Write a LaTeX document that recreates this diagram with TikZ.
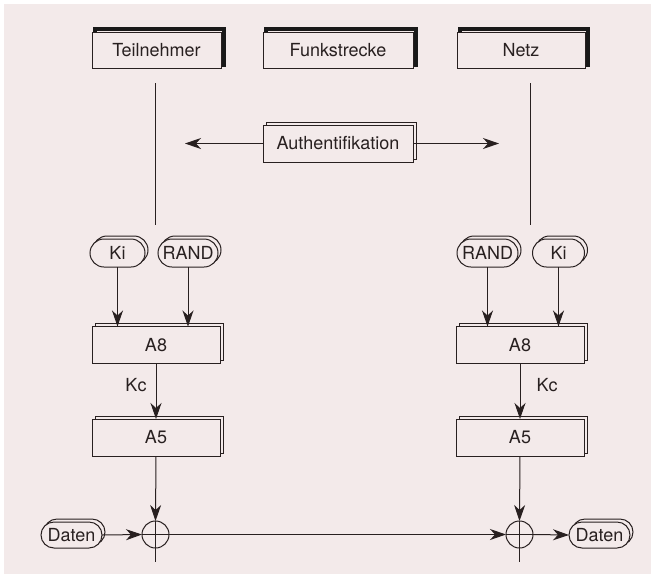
\documentclass[tikz,border=0pt]{standalone}
\usepackage{fontspec}
\setmainfont{TeX Gyre Heros}
\usepackage{tikz}
\usetikzlibrary{arrows.meta,calc,shadows,shapes.misc}
\definecolor{bg}{RGB}{243,234,234}
\definecolor{ink}{RGB}{40,32,32}

\begin{document}
\begin{tikzpicture}[x=1pt,y=-1pt,
    every node/.style={inner sep=0,outer sep=0,text=ink,
        font=\fontsize{18}{20}\selectfont},
    headbox/.style={draw=ink,fill=bg,line width=1pt,minimum height=36pt,
        general shadow={draw=black!90,line width=4pt,shadow xshift=3pt,shadow yshift=3pt}},
    stackbox/.style={draw=ink,fill=bg,line width=1pt,minimum width=128pt,minimum height=37pt,
        general shadow={draw=ink,fill=bg,line width=1pt,shadow xshift=3pt,shadow yshift=3pt}},
    pill/.style={rounded rectangle,draw=ink,fill=bg,line width=1pt,minimum height=28pt,
        general shadow={draw=ink,fill=bg,line width=1pt,shadow xshift=3pt,shadow yshift=3pt}},
    xor/.style={circle,draw=ink,line width=1pt,minimum size=27pt},
    arr/.style={draw=ink,line width=1pt,-{Stealth[length=16pt,width=11pt,inset=5pt]}},
    ln/.style={draw=ink,line width=1pt}]
    \useasboundingbox (0,0) rectangle (651,574);
    \fill[bg] (4,4) rectangle (651,574);
    % Kopfzeile
    \node[headbox,minimum width=129pt](h1) at (156.5,50) {Teilnehmer};
    \node[headbox,minimum width=150pt](h2) at (338,50) {Funkstrecke};
    \node[headbox,minimum width=128pt](h3) at (521,50) {Netz};
    \coordinate(v1) at (155,83);
    \coordinate(v2) at (155,225);
    \coordinate(v3) at (530,83);
    \coordinate(v4) at (530,225);
    \draw[ln] (v1)--(v2);
    \draw[ln] (v3)--(v4);
    \node[stackbox,minimum width=150pt](a1) at (338,143.5) {Authentifikation};
    \coordinate(l1) at (185,143.5);
    \coordinate(l2) at (499,143.5);
    \draw[arr] (a1.west)--(l1);
    \draw[arr] (a1.east)--(l2);
    % Teilnehmer
    \node[pill,minimum width=55pt](k1) at (117.5,253) {Ki};
    \node[pill,minimum width=60pt](r1) at (188,253) {RAND};
    \node[stackbox](e1) at (156,345) {A8};
    \node[stackbox](f1) at (156,437.5) {A5};
    \draw[arr] (k1.south)--(k1.south |- e1.north);
    \draw[arr] (r1.south)--(r1.south |- e1.north);
    \draw[arr] (e1.south)--(f1.north);
    \node(c1) at (136,385) {Kc};
    % Netz
    \node[pill,minimum width=61pt](r2) at (487.5,253) {RAND};
    \node[pill,minimum width=52pt](k2) at (558.5,253) {Ki};
    \node[stackbox](e2) at (520,345) {A8};
    \node[stackbox](f2) at (520,437.5) {A5};
    \draw[arr] (r2.south)--(r2.south |- e2.north);
    \draw[arr] (k2.south)--(k2.south |- e2.north);
    \draw[arr] (e2.south)--(f2.north);
    \node(c2) at (547,385) {Kc};
    % Verschluesselung
    \node[xor](x1) at (155.5,534.5) {};
    \node[xor](x2) at (519.5,534.5) {};
    \coordinate(b1) at (155.5,562);
    \coordinate(b2) at (519.5,562);
    \node[pill,minimum width=61pt,minimum height=26pt](d1) at (71.5,535) {Daten};
    \node[pill,minimum width=61pt,minimum height=26pt](d2) at (599.5,535) {Daten};
    \draw[arr] (f1.south)--(x1.north);
    \draw[ln] (x1.north)--(b1);
    \draw[arr] (f2.south)--(x2.north);
    \draw[ln] (x2.north)--(b2);
    \draw[arr] (d1.east)--(x1.west);
    \draw[ln] (x1.west)--(x1.east);
    \draw[arr] (x1.east)--(x2.west);
    \draw[ln] (x2.west)--(x2.east);
    \draw[arr] (x2.east)--(d2.west);
\end{tikzpicture}
\end{document}
